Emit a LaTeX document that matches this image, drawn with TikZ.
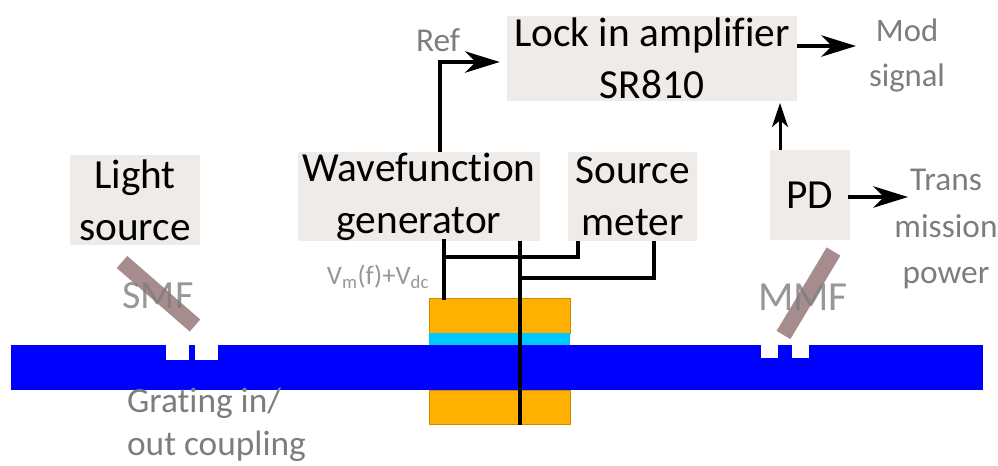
\documentclass[tikz,border=0pt]{standalone}
\usepackage{fontspec}
\setmainfont{Carlito}[Ligatures=NoCommon]
\usetikzlibrary{arrows.meta}
\definecolor{boxgrey}{RGB}{239,235,233}
\definecolor{fibrebrown}{RGB}{166,140,140}
\definecolor{labelgrey}{RGB}{125,125,125}
\definecolor{padgold}{RGB}{255,176,0}
\definecolor{spacercyan}{RGB}{0,200,255}
\tikzset{
	instrbox/.style={fill=boxgrey,inner sep=0pt,align=center,font=\fontsize{31}{39}\selectfont},
	greylabel/.style={text=labelgrey,inner sep=0pt,align=center,font=\fontsize{25}{35}\selectfont},
	sigline/.style={line width=3pt},
	sigarrow/.style={line width=3pt,-{Stealth[length=26pt,width=16pt,inset=8pt]}},
	smallarrow/.style={line width=2.25pt,-{Stealth[length=18pt,width=12pt,inset=5pt]}},
	fibrebar/.style={draw=fibrebrown,line width=12pt}}

\begin{document}
\begin{tikzpicture}[x=0.75pt,y=0.75pt,yscale=-1,xscale=1]
	\useasboundingbox (0,0) rectangle (998,465);

	%Shape: Rectangle [gold pads]
	\fill[padgold,draw=padgold!80!black,line width=0.4pt] (429,298) rectangle (570,333);
	\fill[padgold,draw=padgold!80!black,line width=0.4pt] (429,390) rectangle (570,424.5);
	%Shape: Rectangle [spacer]
	\fill[spacercyan] (429,333) rectangle (570,345);
	%Shape: Rectangle [waveguide]
	\fill[blue] (11,345) rectangle (983,390);
	%Shape: Rectangle [gratings]
	\fill[white] (166,345) rectangle (189,360);
	\fill[white] (195,345) rectangle (218,360);
	\fill[white] (761,345) rectangle (778,358);
	\fill[white] (792,345) rectangle (809,358);

	%Shape: Boxed Line [fibres]
	\coordinate (smftop) at (122,262);
	\coordinate (smfend) at (195,325.5);
	\coordinate (mmftop) at (833.5,251.5);
	\coordinate (mmfend) at (783.5,335);
	\draw[fibrebar] (smftop) -- (smfend);
	\draw[fibrebar] (mmftop) -- (mmfend);

	% Instrument boxes
	\node[instrbox,minimum width=217.5pt,minimum height=63.75pt] (lockin) at (652,58.5) {Lock in amplifier\\SR810};
	\node[instrbox,minimum width=181.5pt,minimum height=66.75pt] (wavegen) at (419,196.5) {Wavefunction\\generator};
	\node[instrbox,minimum width=96.75pt,minimum height=66.75pt] (srcmeter) at (632.5,196.5) {Source\\meter};
	\node[instrbox,minimum width=60pt,minimum height=67.5pt] (pd) at (810,195) {PD};
	\node[instrbox,minimum width=97.5pt,minimum height=67.5pt] (lightsrc) at (135,200) {Light\\source};

	% Text Node
	\node[greylabel,font=\fontsize{25}{30}\selectfont] (reflabel) at (438,40) {Ref};
	\node[greylabel,font=\fontsize{24.5}{34}\selectfont] (modlabel) at (907,55.5) {Mod\\signal};
	\node[greylabel] (translabel) at (946,229) {Trans\\mission\\power};
	\node[greylabel,font=\fontsize{30}{34}\selectfont,text opacity=0.8] (smflabel) at (158,296) {SMF};
	\node[greylabel,font=\fontsize{31}{34}\selectfont,text opacity=0.8] (mmflabel) at (803,297) {MMF};
	\node[greylabel,align=left,font=\fontsize{26.5}{32}\selectfont] (gratinglabel) at (216.5,425) {Grating in/\\out coupling};
	\node[greylabel,font=\fontsize{20}{24}\selectfont,text opacity=0.8] (biaslabel) at (378,277) {V\textsubscript{m}(f)+V\textsubscript{dc}};

	% Coordinates of the free ends
	\coordinate (reffoot) at (440,152);
	\coordinate (refknee) at (440,62);
	\coordinate (modstart) at (797,46);
	\coordinate (modend) at (856,46);
	\coordinate (pdtip) at (780,103);
	\coordinate (transstart) at (848,197);
	\coordinate (transend) at (908,197);
	\coordinate (padtop) at (443.5,298);
	\coordinate (wirea) at (443.5,257);
	\coordinate (wireb) at (578,257);
	\coordinate (wirec) at (520,278);
	\coordinate (wired) at (654,278);
	\coordinate (vialow) at (520,424.5);

	%Straight Lines [arrows]
	\draw[sigarrow] (reffoot) -- (refknee) -- ([xshift=-5.25pt]refknee -| lockin.west);
	\draw[sigarrow] (modstart) -- (modend);
	\draw[smallarrow] (pdtip |- pd.north) -- (pdtip);
	\draw[sigarrow] (transstart) -- (transend);

	%Straight Lines [wiring]
	\draw[sigline,line cap=rect] (padtop) -- (wirea |- wavegen.south);
	\draw[sigline] (wirea) -- (wireb) -- (wireb |- srcmeter.south);
	\draw[sigline] (vialow) -- (wirec |- wavegen.south);
	\draw[sigline] (wirec) -- (wired) -- (wired |- srcmeter.south);

\end{tikzpicture}
\end{document}
